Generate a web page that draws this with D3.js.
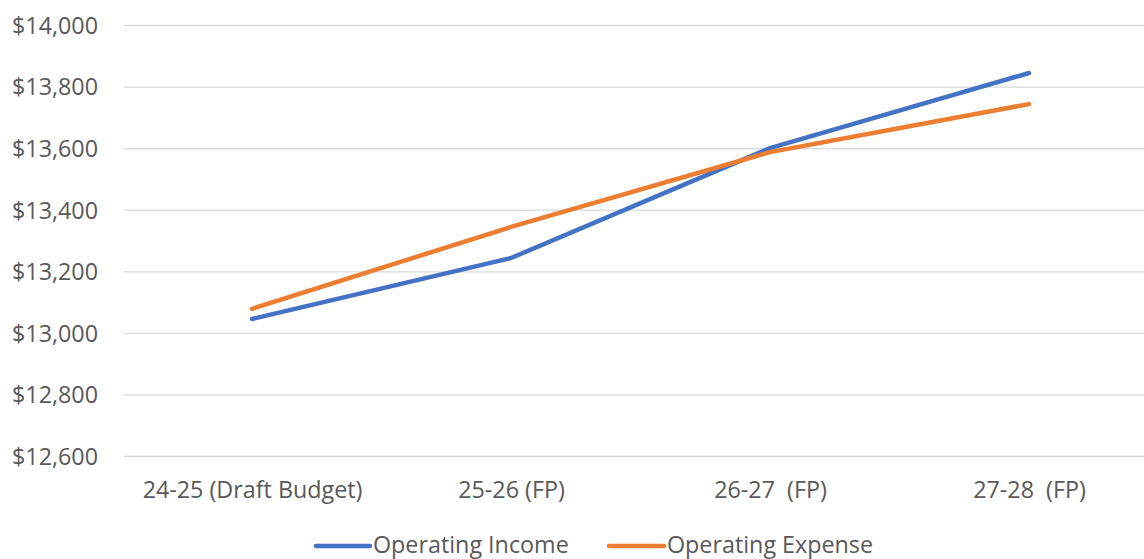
<!DOCTYPE html>
<html><head><meta charset="utf-8">
<script src="https://cdn.jsdelivr.net/npm/d3@7"></script>
<style>body{margin:0;background:#fff}svg{display:block}text{font-family:"Open Sans",sans-serif;fill:#595959}</style>
</head><body><svg id="c" width="1144" height="559"></svg>
<script>
const categories = ["24-25 (Draft Budget)", "25-26 (FP)", "26-27  (FP)", "27-28  (FP)"];
const incomeValues = [13045, 13243, 13600, 13844];
const expenseValues = [13078, 13344, 13587, 13743];
const yTicks = [12600, 12800, 13000, 13200, 13400, 13600, 13800, 14000];
const seriesNames = ["Operating Income", "Operating Expense"];

const FS = 23.3;
const svg = d3.select("#c");
const x = d3.scalePoint().domain(categories).range([252, 1029]);
const y = d3.scaleLinear().domain([12600, 14000]).range([456, 25]);
const fmt = v => "$" + d3.format(",")(v);

const grid = svg.append("g").attr("transform","translate(124,0)")
  .call(d3.axisLeft(y).tickValues(yTicks).tickSize(-(1144-124)).tickFormat(fmt).tickPadding(26));
grid.select(".domain").remove();
grid.selectAll(".tick line").attr("stroke","#d9d9d9").attr("stroke-width",1.3);
grid.selectAll(".tick text").attr("font-size",FS).attr("fill","#595959").style("font-family","'Open Sans',sans-serif").attr("dy","0.36em");

const xa = svg.append("g").attr("transform","translate(0,456)")
  .call(d3.axisBottom(x).tickSize(0).tickPadding(25));
xa.select(".domain").remove();
xa.selectAll(".tick text").attr("font-size",FS).attr("fill","#595959").style("font-family","'Open Sans',sans-serif").style("white-space","pre").attr("xml:space","preserve");

const colors = ["#4472C4", "#ED7D31"];
const line = d3.line().x((d,i)=>x(categories[i])).y(d=>y(d));
[incomeValues, expenseValues].forEach((vals,k)=>{
  svg.append("path").attr("d", line(vals)).attr("fill","none").attr("stroke",colors[k])
    .attr("stroke-width",4.5).attr("stroke-linecap","round").attr("stroke-linejoin","round");
});

const leg = [{x:316, w:54}, {x:609, w:55}];
seriesNames.forEach((n,k)=>{
  svg.append("line").attr("x1",leg[k].x).attr("x2",leg[k].x+leg[k].w).attr("y1",546).attr("y2",546)
    .attr("stroke",colors[k]).attr("stroke-width",4.5).attr("stroke-linecap","round");
  svg.append("text").attr("x",leg[k].x+leg[k].w+3).attr("y",553).attr("font-size",FS).text(n);
});
</script></body></html>
